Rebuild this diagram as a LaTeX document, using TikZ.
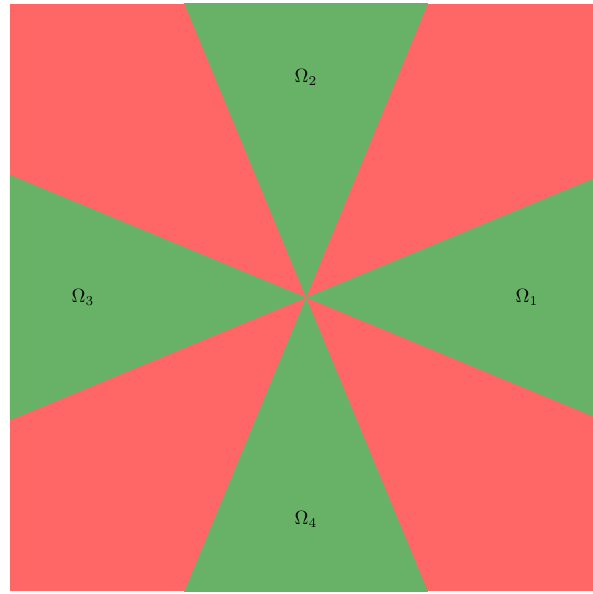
\documentclass[tikz,border=0pt]{standalone}
\usepackage{amsmath,amssymb}
\usepackage{xcolor}
\usepackage{tikz}
\definecolor{sectred}{RGB}{255,102,102}
\definecolor{sectgreen}{RGB}{103,178,103}

\begin{document}
\begin{tikzpicture}[x=0.52pt,y=0.52pt]
  \fill[white] (-306,-296.5) rectangle (287,297.5);
  \useasboundingbox (-306,-296.5) rectangle (287,297.5);
  \begin{scope}
    \clip (-296,-293.5) rectangle (287,293.5);
    \fill[sectred] (-296,-293.5) rectangle (296,293.5);
    \foreach \a in {0,90,180,270}
      \fill[sectgreen] (0,0) -- (\a-22.5:600) -- (\a+22.5:600) -- cycle;
  \end{scope}
  \node (om1) at (221,0)  {$\Omega_1$};
  \node (om2) at (0,220)  {$\Omega_2$};
  \node (om3) at (-223,0) {$\Omega_3$};
  \node (om4) at (0,-222) {$\Omega_4$};
\end{tikzpicture}
\end{document}
